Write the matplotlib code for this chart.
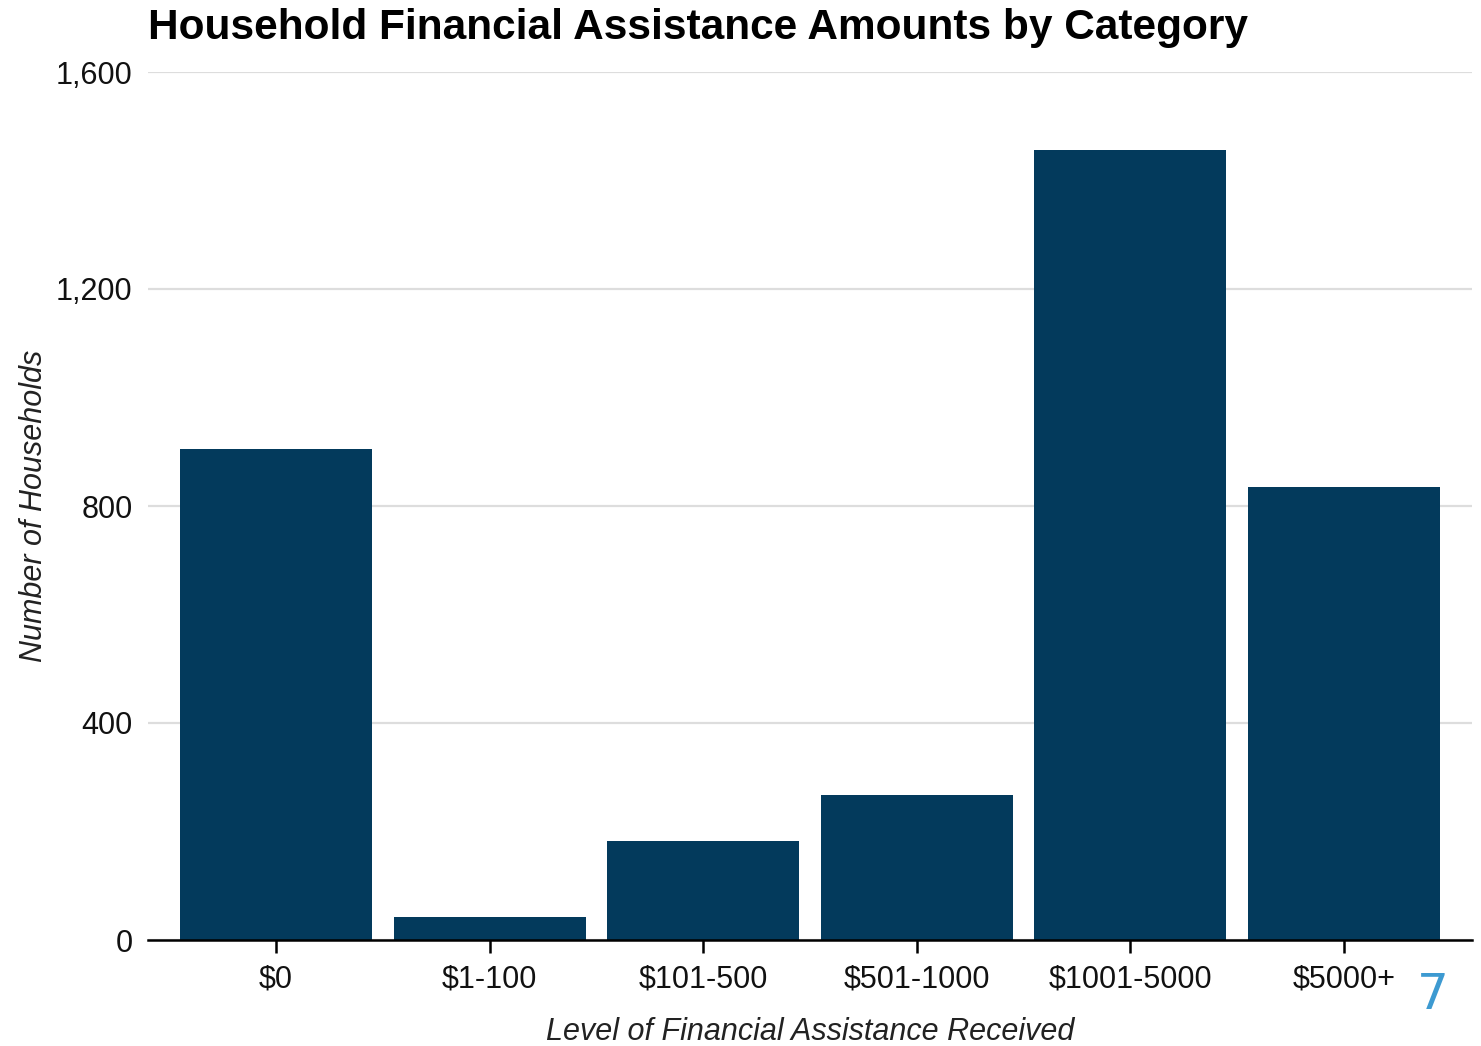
import matplotlib
matplotlib.use("Agg")
import matplotlib.pyplot as plt

categories = ["$0", "$1-100", "$101-500", "$501-1000", "$1001-5000", "$5000+"]
households = [905, 42, 182, 267, 1457, 835]
y_ticks = [0, 400, 800, 1200, 1600]
y_tick_labels = ["0", "400", "800", "1,200", "1,600"]

plt.rcParams['font.family'] = ['Liberation Sans', 'DejaVu Sans']

W, H = 1481, 1046
fig = plt.figure(figsize=(W / 100, H / 100), dpi=100)
ax = fig.add_axes([148 / W, (H - 940) / H, (1472 - 148) / W, (940 - 72) / H])

x = list(range(len(categories)))
ax.bar(x, households, width=0.9, color="#033A5C", zorder=3)

ax.set_xlim(-0.6, len(categories) - 0.4)
ax.set_ylim(0, 1600)
ax.set_yticks(y_ticks)
ax.set_yticklabels(y_tick_labels)
ax.set_xticks(x)
ax.set_xticklabels(categories)

ax.grid(axis="y", color="#dddddd", linewidth=1.6, zorder=0)
ax.grid(axis="x", visible=False)
for s in ["top", "right", "left"]:
    ax.spines[s].set_visible(False)
ax.spines["bottom"].set_color("black")
ax.spines["bottom"].set_linewidth(1.8)
ax.spines["bottom"].set_zorder(4)

ax.tick_params(axis="y", length=0, pad=11, labelsize=22, labelcolor="#111111")
ax.tick_params(axis="x", length=9, width=1.8, color="black", pad=9, labelsize=22, labelcolor="#111111")

ax.set_xlabel("Level of Financial Assistance Received", fontsize=22, style="italic",
              color="#222222", labelpad=16)
ax.set_ylabel("Number of Households", fontsize=22, style="italic",
              color="#222222", labelpad=5)

fig.text(148 / W, 1 - 28 / H, "Household Financial Assistance Amounts by Category",
         fontsize=30.5, fontweight="bold", ha="left", va="center", color="black")

fig.text(1433 / W, 1 - 995 / H, "7", fontsize=36, color="#3d9ad1", ha="center", va="center",
         family=["DejaVu Sans"])

fig.savefig("out.png", dpi=100)
